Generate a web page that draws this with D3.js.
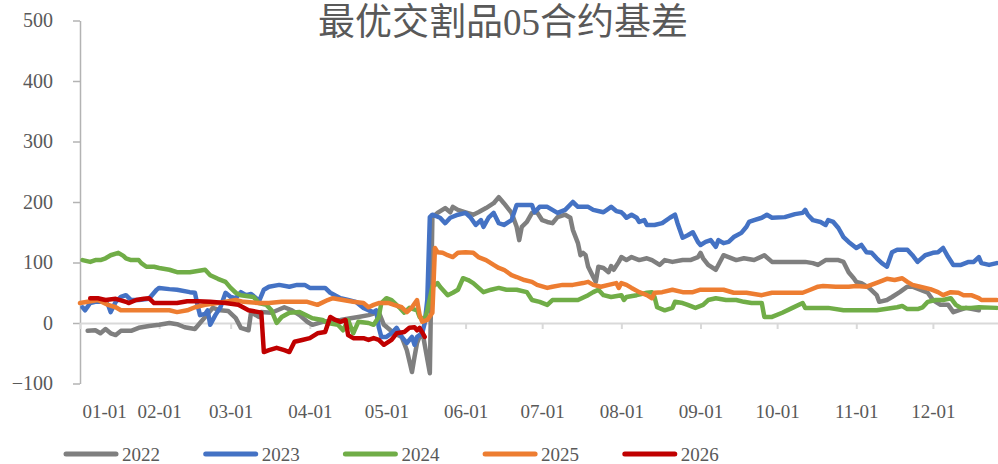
<!DOCTYPE html>
<html><head><meta charset="utf-8">
<script src="https://cdn.jsdelivr.net/npm/d3@7"></script>
<style>
html,body{margin:0;padding:0;background:#fff;}
svg text{font-family:"Liberation Serif","Times New Roman",serif;fill:#595959;}
</style></head>
<body>
<svg id="chart" width="998" height="464"></svg>
<script>
// ---- data (x = day of year, 0 = 01-01) ----
const title = "最优交割品05合约基差";
const seriesNames = ["2022","2023","2024","2025","2026"];
const seriesColors = ["#7f7f7f","#4472c4","#70ad47","#ed7d31","#c00000"];
const yTicks = [-100,0,100,200,300,400,500];
const monthDays = [0,31,59,90,120,151,181,212,243,273,304,334];
const monthLabels = ["01-01","02-01","03-01","04-01","05-01","06-01","07-01","08-01","09-01","10-01","11-01","12-01"];
const lastDay = 359.5;

const s2022 = [[3,-13],[6,-12],[8,-17],[10,-10],[12,-17],[14,-20],[16,-13],[20,-13],[23,-8],[27,-5],[31,-3],[35,0],[38,-2],[41,-7],[45,-10],[47,0],[49,10],[52,25],[55,21],[58,20],[61,8],[63,-8],[66,-12],[67,18],[70,10],[71,18],[75,17],[80,26],[83,21],[86,13],[89,2],[91,-3],[95,2],[102,5],[106,8],[109,10],[113,13],[117,18],[119,-3],[123,-17],[126,-23],[128,-45],[130,-81],[131,-56],[132,-33],[134,-12],[135,-36],[137,-83],[138,175],[140,182],[143,190],[145,183],[146,192],[148,187],[151,183],[154,179],[156,183],[159,190],[162,198],[164,208],[166,198],[169,182],[171,159],[172,137],[173,159],[175,167],[177,182],[179,183],[181,170],[183,167],[185,165],[187,175],[190,179],[192,174],[193,154],[195,132],[196,112],[197,116],[198,112],[199,93],[201,76],[202,68],[203,93],[205,91],[207,84],[208,94],[209,88],[211,101],[212,109],[214,104],[216,109],[219,104],[222,107],[224,104],[227,96],[229,104],[232,101],[236,104],[239,104],[242,109],[243,116],[244,107],[246,96],[249,88],[252,112],[254,109],[257,104],[260,107],[264,104],[268,112],[271,101],[276,101],[284,101],[287,99],[289,96],[292,104],[297,104],[299,101],[301,84],[303,74],[304,68],[306,66],[309,58],[312,46],[313,35],[316,38],[318,43],[321,51],[324,60],[326,60],[329,55],[332,50],[334,38],[337,30],[340,30],[342,18],[344,21],[347,25],[352,21]];

const s2023 = [[1,26],[2,21],[4,33],[6,35],[10,35],[11,30],[12,18],[14,35],[16,43],[18,46],[20,38],[23,38],[27,40],[30,55],[31,58],[35,56],[38,55],[43,51],[45,50],[46,30],[47,13],[49,15],[50,21],[51,-3],[53,13],[55,26],[57,50],[59,43],[61,41],[63,51],[65,46],[67,48],[69,41],[70,35],[72,55],[74,60],[78,63],[82,60],[85,63],[88,63],[90,58],[93,58],[96,58],[98,50],[102,41],[105,38],[108,35],[111,25],[113,21],[115,18],[116,21],[117,-7],[118,-23],[120,-23],[122,-17],[124,-8],[126,-23],[128,-33],[130,-23],[131,-36],[132,-23],[134,-17],[135,0],[136,38],[137,175],[138,179],[141,174],[143,165],[145,174],[148,179],[151,182],[153,174],[155,162],[157,170],[158,159],[160,174],[162,182],[164,165],[166,162],[169,170],[171,195],[174,195],[177,195],[178,183],[180,192],[183,192],[187,182],[190,187],[193,200],[195,192],[199,192],[201,187],[205,183],[208,192],[210,185],[212,183],[213,179],[214,174],[216,179],[218,174],[219,167],[221,170],[222,162],[225,162],[228,165],[231,174],[233,179],[234,165],[236,141],[238,145],[240,150],[242,134],[243,129],[245,134],[247,137],[249,126],[250,137],[252,132],[254,134],[256,142],[259,149],[261,159],[262,167],[264,170],[267,174],[269,179],[271,174],[276,175],[280,180],[283,182],[284,187],[285,179],[287,170],[290,167],[292,162],[293,170],[295,167],[297,157],[299,142],[301,134],[304,124],[306,129],[308,117],[310,116],[312,107],[314,99],[316,93],[318,117],[320,121],[324,121],[326,112],[328,101],[331,112],[334,116],[336,117],[338,124],[340,109],[342,96],[345,96],[348,101],[350,101],[352,109],[353,99],[356,96],[359,99]];

const s2024 = [[1,104],[4,101],[6,104],[8,104],[10,107],[12,112],[15,116],[17,111],[18,107],[20,104],[23,104],[24,99],[26,93],[29,93],[31,91],[35,88],[38,84],[43,84],[49,88],[51,79],[54,73],[57,68],[59,58],[61,50],[63,46],[68,43],[70,33],[73,30],[75,21],[77,0],[79,10],[82,17],[86,18],[89,12],[91,8],[95,5],[97,0],[101,-3],[103,-12],[105,5],[107,-17],[109,2],[113,0],[115,-3],[117,10],[118,33],[120,41],[122,38],[125,26],[127,17],[129,25],[132,21],[133,10],[135,5],[136,21],[138,60],[140,66],[141,60],[144,46],[146,50],[148,55],[150,74],[152,71],[154,66],[158,51],[161,55],[164,58],[167,55],[171,55],[175,51],[177,38],[180,35],[183,30],[185,38],[188,38],[195,38],[199,46],[201,51],[203,55],[205,46],[208,43],[212,46],[213,38],[214,43],[218,46],[222,50],[224,51],[225,43],[226,26],[229,21],[232,25],[233,35],[236,33],[238,30],[241,25],[244,30],[246,38],[249,41],[253,38],[257,38],[260,35],[263,33],[267,33],[268,10],[271,10],[275,17],[279,25],[283,33],[284,25],[288,25],[293,25],[299,21],[304,21],[312,21],[320,26],[322,28],[324,23],[328,23],[330,26],[332,35],[335,38],[338,38],[341,41],[343,30],[345,25],[349,25],[352,26],[359,25]];

const s2025 = [[0,33],[3,35],[7,38],[11,30],[14,26],[16,21],[20,21],[25,21],[30,21],[35,21],[38,18],[42,21],[45,26],[49,30],[54,33],[57,35],[61,38],[64,35],[70,33],[74,33],[79,35],[85,35],[89,35],[93,30],[97,38],[99,41],[103,38],[107,35],[111,33],[113,26],[115,30],[117,33],[121,33],[123,30],[126,26],[128,18],[130,26],[132,38],[133,13],[134,2],[136,5],[138,17],[139,124],[140,117],[142,116],[144,112],[146,109],[148,116],[151,117],[154,116],[156,109],[159,104],[162,96],[164,91],[166,88],[169,79],[171,76],[174,71],[177,68],[179,63],[183,58],[185,60],[189,63],[193,63],[197,66],[199,68],[201,63],[204,60],[207,63],[210,66],[211,58],[212,66],[214,63],[216,58],[219,51],[222,46],[224,41],[225,50],[228,51],[232,55],[236,51],[240,51],[243,55],[246,55],[252,55],[256,50],[261,50],[267,46],[271,50],[277,50],[283,50],[286,55],[289,60],[291,61],[296,60],[301,60],[304,61],[308,60],[313,68],[316,73],[319,71],[322,74],[324,68],[326,63],[329,60],[333,56],[336,51],[338,46],[341,51],[344,50],[346,46],[349,46],[352,41],[353,38],[359,38]];

const s2026 = [[4,41],[7,41],[10,38],[14,40],[18,35],[19,33],[22,38],[25,40],[27,41],[29,33],[33,33],[38,33],[42,36],[46,36],[51,35],[57,33],[62,30],[66,21],[70,18],[71,17],[72,-48],[74,-45],[77,-41],[80,-45],[82,-48],[84,-31],[87,-28],[90,-25],[93,-17],[96,-15],[98,10],[100,5],[102,2],[104,5],[105,-20],[107,-25],[111,-25],[113,-28],[115,-25],[117,-28],[119,-36],[122,-28],[124,-17],[127,-15],[129,-8],[131,-7],[132,-12],[133,-8],[135,-23]];

const allSeries = [s2022, s2023, s2024, s2025, s2026];

// ---- chart ----
const svg = d3.select("#chart");
const plot = {left: 80, right: 998, top: 20.5, bottom: 383.5};

const x = d3.scaleLinear().domain([0, lastDay]).range([plot.left, plot.right]);
const y = d3.scaleLinear().domain([-100, 500]).range([plot.bottom, plot.top]);

// title
svg.append("text")
  .attr("x", 503).attr("y", 22)
  .attr("text-anchor", "middle")
  .attr("dominant-baseline", "central")
  .style("font-family", '"Liberation Serif","Noto Sans CJK SC",sans-serif')
  .style("font-size", "37px")
  .text(title);

// y axis
const yAxis = d3.axisLeft(y).tickValues(yTicks).tickSize(7).tickSizeOuter(0).tickPadding(20);
const gy = svg.append("g").attr("transform", `translate(${plot.left},0)`).call(yAxis);
gy.select(".domain").attr("stroke", "#b3b3b3").attr("stroke-width", 1.5);
gy.selectAll(".tick line").attr("stroke", "#b3b3b3").attr("stroke-width", 1.5);
gy.selectAll(".tick text").style("font-size", "20px").attr("fill", "#595959");

// x axis at y = 0
const xAxis = d3.axisBottom(x).tickValues(monthDays)
  .tickFormat((d, i) => monthLabels[i]).tickSize(6).tickSizeOuter(0).tickPadding(76);
const gx = svg.append("g").attr("transform", `translate(0,${y(0)})`).call(xAxis);
gx.select(".domain").attr("stroke", "#d9d9d9").attr("stroke-width", 2);
gx.selectAll(".tick line").attr("stroke", "#d9d9d9").attr("stroke-width", 2);
gx.selectAll(".tick text").style("font-size", "19px").attr("fill", "#595959");
// first label kept inside the plot edge (as in the original)
gx.selectAll(".tick text").filter((d, i) => i === 0).attr("text-anchor", "start").attr("x", 2);

// lines
const line = d3.line().x(d => x(d[0])).y(d => y(d[1]));
const gl = svg.append("g");
allSeries.forEach((s, i) => {
  gl.append("path").datum(s)
    .attr("d", line)
    .attr("fill", "none")
    .attr("stroke", seriesColors[i])
    .attr("stroke-width", 4.5)
    .attr("stroke-linejoin", "round")
    .attr("stroke-linecap", "round");
});

// legend
const lg = svg.append("g").attr("transform", "translate(64,454)");
seriesNames.forEach((name, i) => {
  const g = lg.append("g").attr("transform", `translate(${i * 139.7},0)`);
  g.append("line").attr("x1", 2).attr("x2", 52).attr("y1", 0).attr("y2", 0)
    .attr("stroke", seriesColors[i]).attr("stroke-width", 5).attr("stroke-linecap", "round");
  g.append("text").attr("x", 58).attr("y", 0).attr("dominant-baseline", "central")
    .style("font-size", "19px").text(name);
});
</script>
</body></html>
